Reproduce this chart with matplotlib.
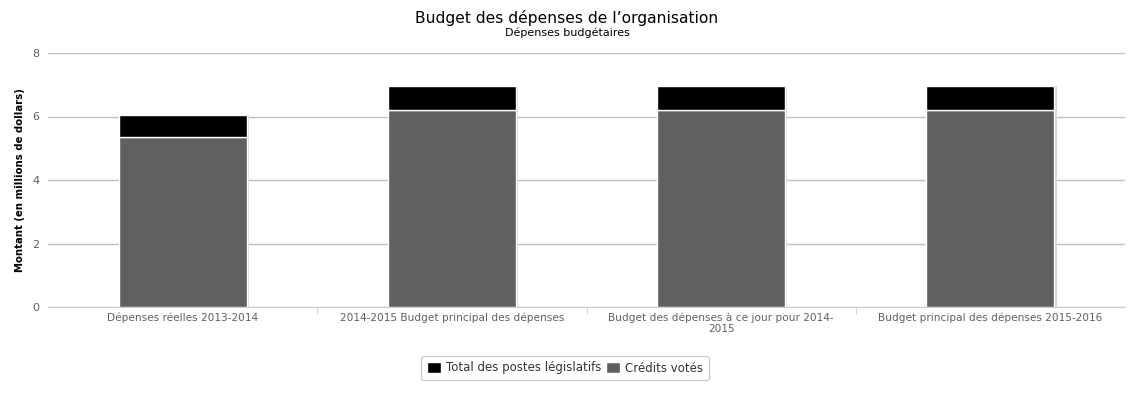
import matplotlib
matplotlib.use("Agg")
import matplotlib.pyplot as plt
import numpy as np

categories = ["Dépenses réelles 2013-2014",
              "2014-2015 Budget principal des dépenses",
              "Budget des dépenses à ce jour pour 2014-\n2015",
              "Budget principal des dépenses 2015-2016"]
credits_votes = [5.35, 6.20, 6.20, 6.20]
postes_legislatifs = [0.70, 0.76, 0.76, 0.76]
yticks = [0, 2, 4, 6, 8]

plt.rcParams['font.family'] = ['DejaVu Sans']
fig = plt.figure(figsize=(11.34, 3.95), dpi=100)
ax = fig.add_axes([48/1134, 88/395, (1125-48)/1134, (307-53)/395])

x = np.arange(len(categories))
w = 0.476
# shadows
ax.bar(x + 0.008, credits_votes, w, bottom=0, color='#d8d8d8', zorder=2, linewidth=0)
ax.bar(x + 0.008, postes_legislatifs, w, bottom=credits_votes, color='#d8d8d8', zorder=2, linewidth=0)
b1 = ax.bar(x, credits_votes, w, color='#606060', edgecolor='white', linewidth=1, zorder=3, label='Crédits votés')
b2 = ax.bar(x, postes_legislatifs, w, bottom=credits_votes, color='#000000', edgecolor='white', linewidth=1, zorder=3, label='Total des postes législatifs')

ax.set_xlim(-0.5, len(categories) - 0.5)
ax.set_ylim(0, 8)
ax.set_yticks(yticks)
ax.set_yticklabels([str(v) for v in yticks], fontsize=8, color='#606060')
ax.yaxis.grid(True, color='#c0c0c0', linewidth=1, zorder=0)
ax.set_axisbelow(True)
ax.tick_params(axis='y', length=0, pad=6)
ax.set_xticks(x)
ax.set_xticklabels(categories, fontsize=7.6, color='#606060', linespacing=1.1)
ax.tick_params(axis='x', length=0, pad=4)
ax.set_xticks(np.arange(0.5, len(categories) - 1, 1), minor=True)
ax.tick_params(axis='x', which='minor', length=5, color='#c0d0e0', direction='out')
for s in ['top', 'right', 'left']:
    ax.spines[s].set_visible(False)
ax.spines['bottom'].set_color('#c0d0e0')
ax.set_ylabel('Montant (en millions de dollars)', fontsize=7.3, fontweight='bold')
ax.yaxis.set_label_coords(-23/1077, 0.5)

fig.text(0.5, 1 - 18/395, "Budget des dépenses de l’organisation", ha='center', va='center', fontsize=11.2, color='#000000')
fig.text(0.5, 1 - 33/395, "Dépenses budgétaires", ha='center', va='center', fontsize=8, color='#000000')

leg = fig.legend(handles=[b2, b1], labels=['Total des postes législatifs', 'Crédits votés'],
                 loc='center', bbox_to_anchor=(565/1134, 1 - 368/395), ncol=2,
                 fontsize=8.5, frameon=True, fancybox=True, handlelength=1.2, handleheight=1.0,
                 handletextpad=0.4, columnspacing=0.4, borderpad=0.5)
leg.get_frame().set_edgecolor('#c0c0c0')
leg.get_frame().set_linewidth(1)
for t in leg.get_texts():
    t.set_color('#333333')

fig.savefig('out.png', dpi=100)
